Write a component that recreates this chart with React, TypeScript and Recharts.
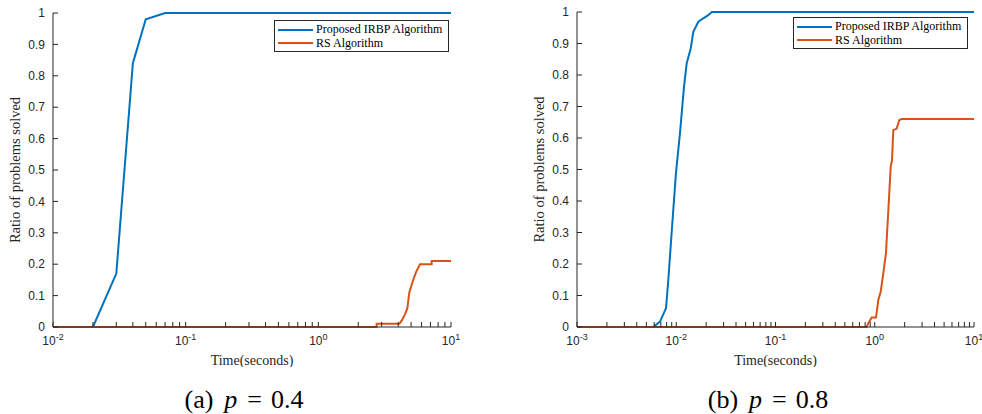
import React from 'react';
import { LineChart, Line, XAxis, YAxis, Legend } from 'recharts';

const SERIF = '"Liberation Serif", "Times New Roman", serif';
const SANS = '"Liberation Sans", Arial, sans-serif';
const AXIS = '#262626';
const BLUE = '#0072BD';
const ORANGE = '#D95319';

// (a) p = 0.4
const irbpTimeA = [0.01, 0.02, 0.03, 0.04, 0.05, 0.07, 10];
const irbpRatioA = [0, 0, 0.17, 0.84, 0.98, 1, 1];
const rsTimeA = [0.01, 2.75, 2.75, 4.08, 4.25, 4.5, 4.69, 4.85, 5.14, 5.45, 5.84, 7.15, 7.15, 10];
const rsRatioA = [0, 0, 0.01, 0.01, 0.02, 0.04, 0.06, 0.11, 0.145, 0.175, 0.2, 0.2, 0.21, 0.21];

// (b) p = 0.8
const irbpTimeB = [0.001, 0.00587, 0.00686, 0.00789, 0.00832, 0.00899, 0.00994, 0.0109, 0.01197, 0.01274, 0.014, 0.01486, 0.01668, 0.01874, 0.021, 0.0228, 10];
const irbpRatioB = [0, 0, 0.017, 0.06, 0.15, 0.3, 0.49, 0.615, 0.763, 0.837, 0.885, 0.937, 0.969, 0.98, 0.99, 1, 1];
const rsTimeB = [0.001, 0.83, 0.861, 0.931, 1.03, 1.086, 1.148, 1.219, 1.297, 1.37, 1.449, 1.493, 1.538, 1.664, 1.766, 1.87, 10];
const rsRatioB = [0, 0, 0.012, 0.03, 0.03, 0.086, 0.112, 0.17, 0.234, 0.37, 0.51, 0.53, 0.625, 0.63, 0.657, 0.66, 0.66];

const yTicks = [0, 0.1, 0.2, 0.3, 0.4, 0.5, 0.6, 0.7, 0.8, 0.9, 1];
const decadesA = [0.01, 0.1, 1];
const decadesB = [0.001, 0.01, 0.1, 1];
const minorSteps = [1, 2, 3, 4, 5, 6, 7, 8, 9];

const logTicks = (decades: number[]) => [
  ...decades.flatMap((d) => minorSteps.map((m) => +(d * m).toPrecision(3))),
  decades[decades.length - 1] * 10,
];

const toPoints = (ts: number[], rs: number[]) => ts.map((t, i) => ({ t, r: rs[i] }));

function LogTick(props: any) {
  const { x, y, payload } = props;
  const lg = Math.log10(payload.value);
  const e = Math.round(lg);
  if (Math.abs(lg - e) > 1e-6) return null;
  return (
    <text x={x} y={y + 13} textAnchor="middle" fill={AXIS} fontFamily={SANS} fontSize={12}>
      <tspan>10</tspan>
      <tspan dy={-5} fontSize={9}>{e}</tspan>
    </text>
  );
}

function BoxLegend({ payload }: any) {
  return (
    <div
      style={{
        border: `1px solid ${AXIS}`,
        background: '#fff',
        padding: '2px 3px 1px 3px',
        fontFamily: SERIF,
        fontSize: 12,
        lineHeight: '13.5px',
        color: '#000',
      }}
    >
      {(payload || []).map((p: any) => (
        <div key={p.value} style={{ display: 'flex', alignItems: 'center' }}>
          <span style={{ display: 'inline-block', flexShrink: 0, width: 35, height: 2, background: p.color, marginRight: 3 }} />
          <span style={{ whiteSpace: 'nowrap', fontFamily: SERIF }}>{p.value}</span>
        </div>
      ))}
    </div>
  );
}

interface PanelProps {
  irbp: { t: number; r: number }[];
  rs: { t: number; r: number }[];
  decades: number[];
  width: number;
  margin: { top: number; right: number; bottom: number; left: number };
  legendLeft: number;
  legendTop: number;
}

function Panel({ irbp, rs, decades, width, margin, legendLeft, legendTop }: PanelProps) {
  const xDomain = [decades[0], decades[decades.length - 1] * 10];
  const xTicks = logTicks(decades);
  return (
    <LineChart width={width} height={367} margin={margin}>
      <XAxis
        xAxisId="bottom"
        dataKey="t"
        type="number"
        scale="log"
        domain={xDomain}
        ticks={xTicks}
        interval={0}
        tick={<LogTick />}
        tickSize={-5}
        tickMargin={10}
        stroke={AXIS}
        height={40}
        label={{ value: 'Time(seconds)', position: 'insideBottom', offset: 2, fill: AXIS, fontFamily: SERIF, fontSize: 14 }}
      />
      <XAxis
        xAxisId="top"
        orientation="top"
        type="number"
        scale="log"
        domain={xDomain}
        ticks={xTicks}
        interval={0}
        tick={false}
        tickSize={-5}
        stroke={AXIS}
        height={0}
      />
      <YAxis
        yAxisId="left"
        type="number"
        domain={[0, 1]}
        ticks={yTicks}
        interval={0}
        tickSize={-5}
        tickMargin={13}
        width={53}
        stroke={AXIS}
        tick={{ fill: AXIS, fontFamily: SANS, fontSize: 12 }}
        label={{
          value: 'Ratio of problems solved',
          angle: -90,
          position: 'insideLeft',
          offset: 15,
          style: { textAnchor: 'middle' },
          fill: AXIS,
          fontFamily: SERIF,
          fontSize: 14.5,
        }}
      />
      <YAxis
        yAxisId="right"
        orientation="right"
        type="number"
        domain={[0, 1]}
        ticks={yTicks}
        interval={0}
        tick={false}
        tickSize={-5}
        width={0}
        stroke={AXIS}
      />
      <Legend
        layout="vertical"
        align="center"
        verticalAlign="middle"
        content={<BoxLegend />}
        wrapperStyle={{ left: legendLeft, top: legendTop, width: 175 }}
      />
      <Line
        xAxisId="bottom"
        yAxisId="left"
        data={irbp}
        dataKey="r"
        name="Proposed IRBP Algorithm"
        stroke={BLUE}
        strokeWidth={2}
        dot={false}
        activeDot={false}
        isAnimationActive={false}
      />
      <Line
        xAxisId="bottom"
        yAxisId="left"
        data={rs}
        dataKey="r"
        name="RS Algorithm"
        stroke={ORANGE}
        strokeWidth={2}
        dot={false}
        activeDot={false}
        isAnimationActive={false}
      />
    </LineChart>
  );
}

function Caption({ label, p, center }: { label: string; p: string; center: number }) {
  return (
    <div
      style={{
        position: 'absolute',
        left: center,
        top: 385,
        transform: 'translateX(-50%)',
        fontFamily: SERIF,
        fontSize: 26,
        lineHeight: '30px',
        whiteSpace: 'nowrap',
        color: '#000',
      }}
    >
      <span>{label}</span>
      <i style={{ marginLeft: 11 }}>p</i>
      <span style={{ margin: '0 9px 0 10px' }}>=</span>
      <span>{p}</span>
    </div>
  );
}

export default function App() {
  return (
    <div style={{ position: 'absolute', left: 0, top: 0, width: 982, height: 414, background: '#fff' }}>
      <div style={{ position: 'absolute', left: 0, top: 0 }}>
        <Panel
          irbp={toPoints(irbpTimeA, irbpRatioA)}
          rs={toPoints(rsTimeA, rsRatioA)}
          decades={decadesA}
          width={470}
          margin={{ top: 13, right: 19, bottom: 0, left: 0 }}
          legendLeft={274}
          legendTop={20}
        />
      </div>
      <div style={{ position: 'absolute', left: 491, top: 0 }}>
        <Panel
          irbp={toPoints(irbpTimeB, irbpRatioB)}
          rs={toPoints(rsTimeB, rsRatioB)}
          decades={decadesB}
          width={491}
          margin={{ top: 12, right: 8, bottom: 0, left: 33 }}
          legendLeft={302}
          legendTop={17}
        />
      </div>
      <Caption label="(a)" p="0.4" center={244} />
      <Caption label="(b)" p="0.8" center={768} />
    </div>
  );
}
